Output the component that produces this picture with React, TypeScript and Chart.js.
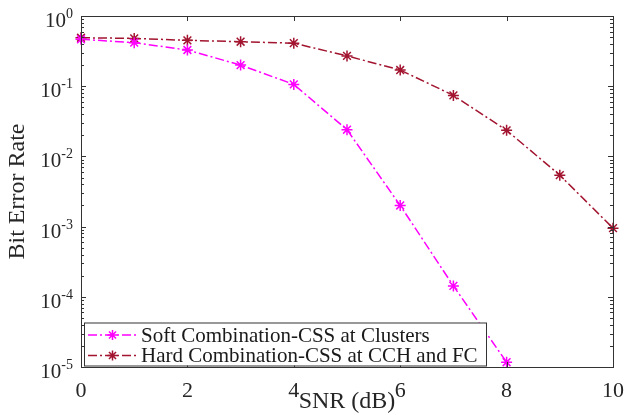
import React, { useEffect, useRef } from 'react';
import { Chart, registerables } from 'chart.js';

Chart.register(...registerables);

const snrDb = [0, 1, 2, 3, 4, 5, 6, 7, 8, 9, 10];
const softBer = [0.466, 0.417, 0.328, 0.2, 0.106, 0.024, 0.002, 1.43e-4, 1.17e-5];
const hardBer = [0.49, 0.48, 0.45, 0.43, 0.41, 0.27, 0.17, 0.074, 0.0235, 0.0054, 0.00095];
const xTickValues = [0, 2, 4, 6, 8, 10];
const yDecades = [-5, -4, -3, -2, -1, 0];
const seriesLabels = ['Soft Combination-CSS at Clusters', 'Hard Combination-CSS at CCH and FC'];
const seriesColors = ['#FF00FF', '#A2142F'];
const xTitle = 'SNR (dB)';
const yTitle = 'Bit Error Rate';

const FONT = '"Liberation Serif", "Times New Roman", serif';
const TEXT = '#262626';
const AXIS = '#333333';
const DASH = [9, 3, 2, 3];

function drawStar(ctx: CanvasRenderingContext2D, x: number, y: number, r: number) {
  const d = r * Math.SQRT1_2;
  ctx.beginPath();
  ctx.moveTo(x - r, y); ctx.lineTo(x + r, y);
  ctx.moveTo(x, y - r); ctx.lineTo(x, y + r);
  ctx.moveTo(x - d, y - d); ctx.lineTo(x + d, y + d);
  ctx.moveTo(x - d, y + d); ctx.lineTo(x + d, y - d);
  ctx.stroke();
}

const framePlugin = {
  id: 'matlabFrame',
  afterDatasetsDraw(chart: any) {
    const { ctx, chartArea: a, scales } = chart;
    const xs = scales.x;
    const ys = scales.y;
    ctx.save();
    ctx.strokeStyle = AXIS;
    ctx.lineWidth = 1;
    ctx.setLineDash([]);
    ctx.beginPath();
    for (const v of xTickValues) {
      const px = Math.round(xs.getPixelForValue(v)) + 0.5;
      ctx.moveTo(px, a.bottom); ctx.lineTo(px, a.bottom - 5);
      ctx.moveTo(px, a.top); ctx.lineTo(px, a.top + 5);
    }
    for (const e of yDecades) {
      const py = Math.round(ys.getPixelForValue(Math.pow(10, e))) + 0.5;
      ctx.moveTo(a.left, py); ctx.lineTo(a.left + 5, py);
      ctx.moveTo(a.right, py); ctx.lineTo(a.right - 5, py);
      if (e < 0) {
        for (let k = 2; k <= 9; k++) {
          const pm = Math.round(ys.getPixelForValue(k * Math.pow(10, e))) + 0.5;
          ctx.moveTo(a.left, pm); ctx.lineTo(a.left + 3, pm);
          ctx.moveTo(a.right, pm); ctx.lineTo(a.right - 3, pm);
        }
      }
    }
    ctx.stroke();
    ctx.strokeRect(Math.round(a.left) + 0.5, Math.round(a.top) + 0.5, Math.round(a.right - a.left), Math.round(a.bottom - a.top));

    // y tick labels with superscript exponents
    const labelRight = a.left - 8;
    for (const e of yDecades) {
      const py = ys.getPixelForValue(Math.pow(10, e));
      const exp = String(e);
      ctx.fillStyle = TEXT;
      ctx.textBaseline = 'alphabetic';
      ctx.font = `14px ${FONT}`;
      const ew = ctx.measureText(exp).width;
      ctx.textAlign = 'left';
      ctx.fillText(exp, labelRight - ew, py + 2);
      ctx.font = `21px ${FONT}`;
      ctx.textAlign = 'right';
      ctx.fillText('10', labelRight - ew, py + 11);
    }

    // legend box
    const lx = 84, ly = 322.5, lw = 402, lh = 43;
    ctx.fillStyle = '#ffffff';
    ctx.fillRect(lx, ly, lw, lh);
    ctx.strokeStyle = AXIS;
    ctx.lineWidth = 1;
    ctx.strokeRect(lx + 0.5, ly + 0.5, lw, lh);
    const rows = [335, 355.5];
    seriesLabels.forEach((label, i) => {
      const ry = rows[i];
      ctx.strokeStyle = seriesColors[i];
      ctx.lineWidth = 1.5;
      ctx.setLineDash(DASH);
      ctx.beginPath();
      ctx.moveTo(88, ry); ctx.lineTo(137, ry);
      ctx.stroke();
      ctx.setLineDash([]);
      drawStar(ctx, 112.5, ry, 5);
      ctx.fillStyle = '#1a1a1a';
      ctx.font = `21px ${FONT}`;
      ctx.textAlign = 'left';
      ctx.textBaseline = 'middle';
      ctx.fillText(label, 141, ry + 1);
    });
    ctx.restore();
  },
};

export default function App() {
  const ref = useRef<HTMLCanvasElement | null>(null);
  useEffect(() => {
    document.body.style.margin = '0';
    const canvas = ref.current;
    if (!canvas) return;
    const mk = (vals: number[], i: number) => ({
      label: seriesLabels[i],
      data: vals.map((y, j) => ({ x: snrDb[j], y })),
      borderColor: seriesColors[i],
      backgroundColor: seriesColors[i],
      borderWidth: 1.5,
      borderDash: DASH,
      pointStyle: 'star' as const,
      pointRadius: 5.5,
      pointBorderWidth: 1.5,
      pointBorderColor: seriesColors[i],
      tension: 0,
      clip: false as any,
    });
    const chart = new Chart(canvas, {
      type: 'line',
      data: { datasets: [mk(softBer, 0), mk(hardBer, 1)] },
      options: {
        animation: false,
        responsive: false,
        layout: { padding: { top: 16, right: 11, left: 0, bottom: 0 } },
        plugins: { legend: { display: false }, tooltip: { enabled: false } },
        scales: {
          x: {
            type: 'linear',
            min: 0,
            max: 10,
            grid: { display: false, drawTicks: false },
            border: { display: false },
            ticks: { stepSize: 2, color: TEXT, font: { family: FONT, size: 22 }, padding: 11, maxRotation: 0 },
            title: { display: true, text: xTitle, color: TEXT, font: { family: FONT, size: 24, lineHeight: 1 }, padding: { top: 0, bottom: 1 } },
            afterFit: (s: any) => { s.height = 48; s.paddingLeft = 0; s.paddingRight = 0; },
          },
          y: {
            type: 'logarithmic',
            min: 1e-5,
            max: 1,
            grid: { display: false, drawTicks: false },
            border: { display: false },
            ticks: { display: false },
            title: { display: true, text: yTitle, color: TEXT, font: { family: FONT, size: 24, lineHeight: 1 }, padding: { top: 6, bottom: 0 } },
            afterFit: (s: any) => { s.width = 81; s.paddingTop = 0; s.paddingBottom = 0; },
          },
        },
      } as any,
      plugins: [framePlugin],
    });
    return () => chart.destroy();
  }, []);
  return (
    <div style={{ position: 'absolute', left: 0, top: 0, width: 624, height: 415 }}>
      <canvas ref={ref} width={624} height={415} />
    </div>
  );
}
